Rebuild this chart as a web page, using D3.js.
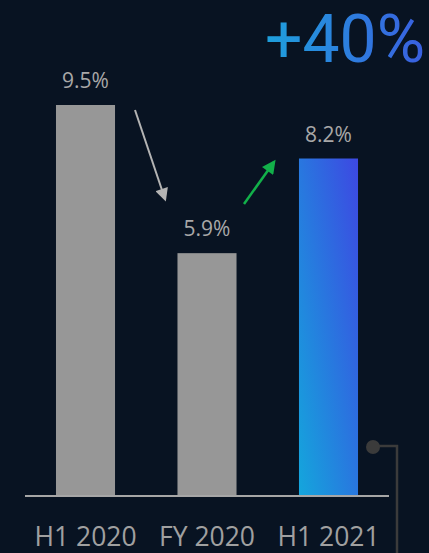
<!DOCTYPE html>
<html>
<head>
<meta charset="utf-8">
<script src="https://cdn.jsdelivr.net/npm/d3@7"></script>
<style>
  html, body { margin: 0; padding: 0; background: #081322; }
  svg { display: block; }
</style>
</head>
<body>
<svg id="chart" width="429" height="553"></svg>
<script>
// Chart data
const categories = ["H1 2020", "FY 2020", "H1 2021"];
const values = [9.5, 5.9, 8.2];
const valueLabels = ["9.5%", "5.9%", "8.2%"];
const headline = "+40%";

const W = 429, H = 553;
const svg = d3.select("#chart");
const font = "'Open Sans', 'Noto Sans', sans-serif";

svg.append("rect").attr("width", W).attr("height", H).attr("fill", "#081322");

const defs = svg.append("defs");
const barGrad = defs.append("linearGradient")
  .attr("id", "barGrad").attr("x1", "0%").attr("y1", "100%").attr("x2", "100%").attr("y2", "0%");
barGrad.append("stop").attr("offset", "0%").attr("stop-color", "#14a6dc");
barGrad.append("stop").attr("offset", "100%").attr("stop-color", "#3d48e2");

const textGrad = defs.append("linearGradient")
  .attr("id", "textGrad").attr("x1", "0%").attr("y1", "0%").attr("x2", "100%").attr("y2", "0%");
textGrad.append("stop").attr("offset", "0%").attr("stop-color", "#1ea0dc");
textGrad.append("stop").attr("offset", "100%").attr("stop-color", "#3a5fe0");

const x = d3.scaleBand().domain(categories).range([25, 389]).paddingInner(0.514).paddingOuter(0.255);
const y = d3.scaleLinear().domain([0, 9.5]).range([496, 105]);

// Bars
svg.selectAll("rect.bar").data(values).join("rect")
  .attr("class", "bar")
  .attr("x", (d, i) => x(categories[i]))
  .attr("y", d => y(d))
  .attr("width", x.bandwidth())
  .attr("height", d => y(0) - y(d))
  .attr("fill", (d, i) => i === 2 ? "url(#barGrad)" : "#979797");

// Value labels
svg.selectAll("text.val").data(values).join("text")
  .attr("class", "val")
  .attr("x", (d, i) => x(categories[i]) + x.bandwidth() / 2)
  .attr("y", d => y(d) - 17)
  .attr("text-anchor", "middle")
  .attr("font-family", font)
  .attr("font-size", 21)
  .attr("fill", "#a8a8a8")
  .text((d, i) => valueLabels[i]);

// Baseline axis
const axis = d3.axisBottom(x).tickSize(0).tickPadding(31);
const gAxis = svg.append("g").attr("transform", `translate(0,${y(0)})`).call(axis);
gAxis.select(".domain").attr("stroke", "#a6a6a6").attr("stroke-width", 2)
  .attr("d", "M25,0H389");
gAxis.selectAll(".tick text")
  .attr("font-family", font).attr("font-size", 26.5).attr("fill", "#a0a0a0");

// Arrows
defs.append("marker").attr("id", "headGray").attr("viewBox", "0 0 10 10")
  .attr("refX", 8).attr("refY", 5).attr("markerWidth", 7).attr("markerHeight", 6.5)
  .attr("orient", "auto").attr("markerUnits", "strokeWidth")
  .append("path").attr("d", "M0,0L10,5L0,10z").attr("fill", "#b4b4b4");
defs.append("marker").attr("id", "headGreen").attr("viewBox", "0 0 10 10")
  .attr("refX", 8).attr("refY", 5).attr("markerWidth", 6).attr("markerHeight", 5.5)
  .attr("orient", "auto").attr("markerUnits", "strokeWidth")
  .append("path").attr("d", "M0,0L10,5L0,10z").attr("fill", "#12b04a");

svg.append("line").attr("x1", 135).attr("y1", 110).attr("x2", 165).attr("y2", 199)
  .attr("stroke", "#b4b4b4").attr("stroke-width", 2).attr("marker-end", "url(#headGray)");
svg.append("line").attr("x1", 244).attr("y1", 204).attr("x2", 274).attr("y2", 162)
  .attr("stroke", "#12b04a").attr("stroke-width", 2.5).attr("marker-end", "url(#headGreen)");

// Headline
svg.append("text").attr("x", 425).attr("y", 62).attr("text-anchor", "end")
  .attr("font-family", "Roboto, 'Open Sans', sans-serif").attr("font-size", 66).attr("font-weight", 400)
  .attr("fill", "url(#textGrad)").text(headline);

// Connector callout
svg.append("path").attr("d", "M373,446H397V553")
  .attr("fill", "none").attr("stroke", "#3b3b3b").attr("stroke-width", 2.5);
svg.append("circle").attr("cx", 373).attr("cy", 447).attr("r", 7).attr("fill", "#3b3b3b");
</script>
</body>
</html>
